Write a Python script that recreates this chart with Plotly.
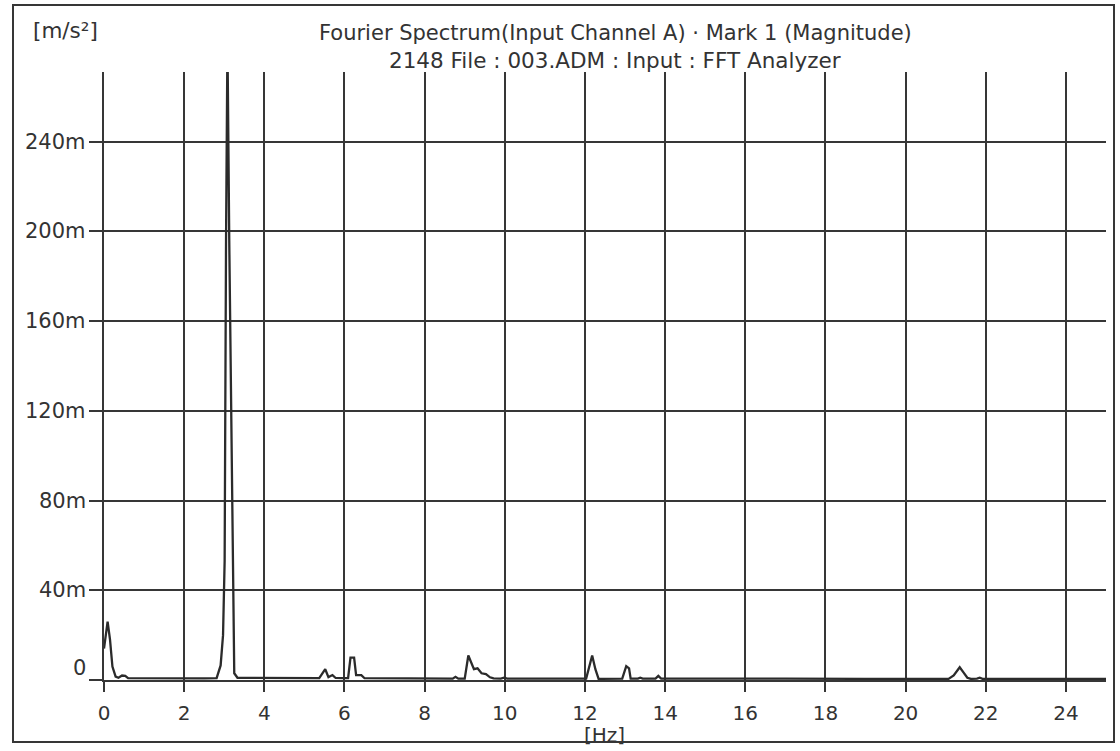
import plotly.graph_objects as go

# Magnitude spectrum vertices: frequency [Hz] and magnitude [m/s^2 x 1e-3]
freq_hz = [0.0, 0.03, 0.09, 0.15, 0.21, 0.29, 0.36, 0.45, 0.53, 0.6,
           1.5, 2.5, 2.81, 2.91, 2.97, 3.01, 3.045, 3.08, 3.125, 3.23, 3.25, 3.33,
           4.5, 5.37, 5.52, 5.6, 5.7, 5.78, 5.99, 6.09, 6.15, 6.24, 6.29, 6.42, 6.5,
           7.5, 8.7, 8.77, 8.84, 9.0, 9.09, 9.23, 9.32, 9.42, 9.53, 9.63, 9.72,
           9.9, 9.98, 10.06, 11.0, 12.03, 12.18, 12.26, 12.34, 12.93, 13.03, 13.1,
           13.14, 13.32, 13.38, 13.44, 13.76, 13.83, 13.9, 15.0, 17.0, 19.0,
           21.07, 21.2, 21.35, 21.43, 21.54, 21.63, 21.78, 21.85, 21.92, 23.0, 25.0]
mag_milli = [14, 19, 26, 18, 6, 1.5, 1.0, 2.0, 1.8, 0.8,
             0.6, 0.7, 0.8, 6.5, 20, 53, 196, 285, 196, 53, 3, 1.0,
             0.7, 0.8, 4.8, 1.3, 2.2, 0.9, 0.8, 0.8, 10, 10, 2.2, 2.2, 0.8,
             0.6, 0.6, 1.4, 0.6, 0.6, 10.9, 4.8, 5.2, 3.0, 2.6, 1.2, 0.7,
             0.6, 1.0, 0.6, 0.6, 0.6, 10.9, 4.8, 0.5, 0.6, 6.2, 5.2,
             0.6, 0.6, 1.0, 0.6, 0.6, 1.8, 0.6, 0.5, 0.6, 0.5,
             0.5, 2.0, 5.7, 3.7, 1.0, 0.5, 0.6, 1.0, 0.5, 0.5, 0.5]

x_ticks = list(range(0, 25, 2))
y_ticks = [0, 40, 80, 120, 160, 200, 240]
y_tick_text = ["0", "40m", "80m", "120m", "160m", "200m", "240m"]

title_line1 = "Fourier Spectrum(Input Channel A) \u00b7 Mark 1 (Magnitude)"
title_line2 = "2148 File : 003.ADM : Input : FFT Analyzer"

INK = "#363636"
TXT = "#333333"
FONT = "DejaVu Sans"

W, H = 1120, 751
ML, MR, MT, MB = 104, 14, 72, 71
PW, PH = W - ML - MR, H - MT - MB


def px_to_paper_x(px):
    return (px - ML) / PW


def px_to_paper_y(py):
    return (H - MB - py) / PH


fig = go.Figure()
fig.add_trace(go.Scatter(
    x=freq_hz, y=mag_milli, mode="lines",
    line=dict(color="#2b2b2b", width=2.3),
    cliponaxis=True, hoverinfo="skip", showlegend=False,
))

axis_common = dict(
    showgrid=True, gridcolor=INK, gridwidth=1.6,
    ticks="outside", tickcolor=INK, tickwidth=1.6,
    showline=True, linecolor=INK, linewidth=1.6,
    zeroline=False, mirror=False,
)

fig.update_xaxes(
    range=[0, 25], tickvals=x_ticks, ticklen=10,
    tickfont=dict(family=FONT, size=20, color=TXT),
    ticklabelstandoff=4,
    **axis_common,
)
fig.update_yaxes(
    range=[0, 271], tickvals=y_ticks, ticklen=13,
    showticklabels=False,
    **axis_common,
)

annotations = []
for v, t in zip(y_ticks, y_tick_text):
    annotations.append(dict(
        x=0, xref="paper", y=v, yref="y", text=t, showarrow=False,
        xanchor="right", yanchor="middle", xshift=-16,
        yshift=12 if v == 0 else 0,
        font=dict(family=FONT, size=21, color=TXT),
    ))

annotations += [
    dict(x=px_to_paper_x(615), y=px_to_paper_y(33), xref="paper", yref="paper",
         text=title_line1, showarrow=False, xanchor="center", yanchor="middle",
         font=dict(family=FONT, size=21, color=TXT)),
    dict(x=px_to_paper_x(615), y=px_to_paper_y(60), xref="paper", yref="paper",
         text=title_line2, showarrow=False, xanchor="center", yanchor="middle",
         font=dict(family=FONT, size=21.5, color=TXT)),
    dict(x=px_to_paper_x(31), y=px_to_paper_y(30), xref="paper", yref="paper",
         text="[m/s\u00b2]", showarrow=False, xanchor="left", yanchor="middle",
         font=dict(family=FONT, size=21.5, color=TXT)),
    dict(x=px_to_paper_x(604), y=px_to_paper_y(735), xref="paper", yref="paper",
         text="[Hz]", showarrow=False, xanchor="center", yanchor="middle",
         font=dict(family=FONT, size=20, color=TXT)),
]

# outer frame around the whole printout
shapes = [dict(
    type="rect", xref="paper", yref="paper",
    x0=px_to_paper_x(13), x1=px_to_paper_x(1114),
    y0=px_to_paper_y(742), y1=px_to_paper_y(5),
    line=dict(color=INK, width=2), fillcolor="rgba(0,0,0,0)", layer="below",
)]

fig.update_layout(
    width=W, height=H,
    margin=dict(l=ML, r=MR, t=MT, b=MB, pad=0),
    paper_bgcolor="white", plot_bgcolor="white",
    annotations=annotations, shapes=shapes,
    showlegend=False,
)

fig.write_html("out.html")
